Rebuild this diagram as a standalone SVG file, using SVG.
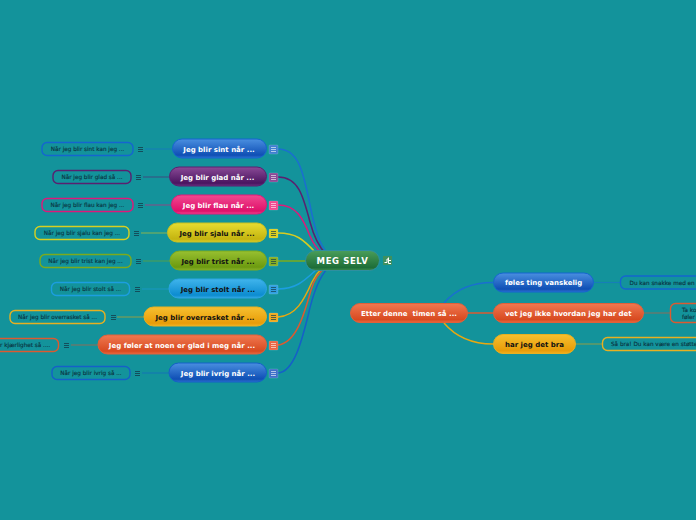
<svg xmlns="http://www.w3.org/2000/svg" width="696" height="520" viewBox="0 0 696 520">
<style>
text{font-family:"DejaVu Sans",Verdana,sans-serif;font-weight:700}
.n{font-size:7px;text-anchor:middle;dominant-baseline:central;white-space:pre}
.w{fill:#fff}.k{fill:#111}
.m{font-size:8.5px;fill:#fff;text-anchor:middle;dominant-baseline:central;letter-spacing:.6px}
.l{font-size:5.7px;fill:#0a3442;font-weight:400;stroke:#0a3442;stroke-width:.15px}
.leaf{fill:none;stroke-width:1.4}
.c{fill:none;stroke-width:1.5}
.s{fill:none;stroke-width:1.1;opacity:.55}
.b{stroke:#143c4a;stroke-width:.8;fill:none}
.bi{stroke:#143c4a;stroke-width:.7;fill:none}
.bw{stroke:#fff;stroke-width:.7;fill:none;opacity:.85}
.ib{stroke:#fff;stroke-opacity:.25;stroke-width:.6}
</style>
<defs>
<linearGradient id="blue" x1="0" y1="0" x2="0" y2="1"><stop offset="0" stop-color="#4a8fe0"/><stop offset=".85" stop-color="#0f4fb5"/><stop offset="1" stop-color="#2f70cc"/></linearGradient>
<linearGradient id="purple" x1="0" y1="0" x2="0" y2="1"><stop offset="0" stop-color="#8a4a96"/><stop offset=".85" stop-color="#4a1560"/><stop offset="1" stop-color="#6a3080"/></linearGradient>
<linearGradient id="pink" x1="0" y1="0" x2="0" y2="1"><stop offset="0" stop-color="#f04a90"/><stop offset=".85" stop-color="#e0106a"/><stop offset="1" stop-color="#f04a90"/></linearGradient>
<linearGradient id="yellow" x1="0" y1="0" x2="0" y2="1"><stop offset="0" stop-color="#e8dc30"/><stop offset=".85" stop-color="#c4b410"/><stop offset="1" stop-color="#d8cc28"/></linearGradient>
<linearGradient id="lime" x1="0" y1="0" x2="0" y2="1"><stop offset="0" stop-color="#98c030"/><stop offset=".85" stop-color="#6c9a10"/><stop offset="1" stop-color="#88b028"/></linearGradient>
<linearGradient id="sky" x1="0" y1="0" x2="0" y2="1"><stop offset="0" stop-color="#40b4ec"/><stop offset=".85" stop-color="#0c8cd0"/><stop offset="1" stop-color="#30a4e0"/></linearGradient>
<linearGradient id="orange" x1="0" y1="0" x2="0" y2="1"><stop offset="0" stop-color="#f6c030"/><stop offset=".85" stop-color="#e89c08"/><stop offset="1" stop-color="#f0b020"/></linearGradient>
<linearGradient id="red" x1="0" y1="0" x2="0" y2="1"><stop offset="0" stop-color="#f07850"/><stop offset=".85" stop-color="#d84a20"/><stop offset="1" stop-color="#e86840"/></linearGradient>
<linearGradient id="green" x1="0" y1="0" x2="0" y2="1"><stop offset="0" stop-color="#4a9e5a"/><stop offset=".85" stop-color="#1e6e38"/><stop offset="1" stop-color="#3a8a4c"/></linearGradient>
<g id="mk"><path d="M-2.500 -2H2.500M-2.500 0H2.500M-2.500 2H2.500"/></g>
</defs>
<rect width="696" height="520" fill="#13939b"/>
<g id="connectors">
<path class="c" stroke="#1a6fd0" d="M278 149C298 149 303 170 310 205C315 230 319 244 328 254"/>
<path class="c" stroke="#5a2070" d="M278 177C298 177 303 195 310 222C314 237 318 246 326 254"/>
<path class="c" stroke="#e0187a" d="M278 205C296 205 303 218 310 236C313 243 317 249 322 254"/>
<path class="c" stroke="#d8cc20" d="M278 233C296 233 303 239 316 253"/>
<path class="c" stroke="#7cab1c" d="M278 261H306"/>
<path class="c" stroke="#1c9ee0" d="M278 289C296 289 304 281 316 270"/>
<path class="c" stroke="#e8a810" d="M278 317C296 316 304 300 312 282C315 276 318 272 322 268"/>
<path class="c" stroke="#dc5a30" d="M278 345C296 343 304 315 311 290C314 280 318 273 325 268"/>
<path class="c" stroke="#1560c8" d="M278 373C294 372 302 340 308 316C312 298 318 278 328 268"/>
<path class="c" stroke="#1a6fd0" d="M444 303C455 290 470 282.500 493 282.500"/>
<path class="c" stroke="#dc5a30" d="M467 313H493"/>
<path class="c" stroke="#e8a810" d="M444 323C455 336 470 344 493 344"/>
<path class="s" stroke="#1a6fd0" d="M145 149H172"/>
<path class="s" stroke="#5a2070" d="M143 177H169"/>
<path class="s" stroke="#e0187a" d="M145 205H171"/>
<path class="s" stroke="#d8cc20" d="M141 233H167"/>
<path class="s" stroke="#7cab1c" d="M143 261H170"/>
<path class="s" stroke="#1c9ee0" d="M142 289H169"/>
<path class="s" stroke="#e8a810" d="M117 317H144"/>
<path class="s" stroke="#dc5a30" d="M71 345H98"/>
<path class="s" stroke="#1560c8" d="M142 373H169"/>
<path class="s" stroke="#1a6fd0" d="M593 282.500H620"/>
<path class="s" stroke="#dc5a30" d="M643 313H670"/>
<path class="s" stroke="#e8a810" d="M575 344H602"/>
</g>
<g id="center"><rect x="305.500" y="250.500" width="74" height="20" rx="10" fill="url(#green)" stroke="#2f8fa0"/><text class="m" x="342.500" y="261">MEG SELV</text>
<rect x="383" y="256" width="9" height="9" fill="#3d9060"/><path d="M384.500 262.500H387V259H389M388.500 257.500V263.500H391M389 260.500H391" stroke="#fff" stroke-width="1" fill="none"/></g>
<g id="n1"><rect x="172.500" y="139" width="94" height="19" rx="9.500" fill="url(#blue)" stroke="#1565d0"/><text class="n w" x="219" y="149.500">Jeg blir sint når ...</text><rect class="ib" x="269" y="145" width="9" height="9" rx="1" fill="#3f80d0"/><use href="#mk" x="273.500" y="149.500" class="bw"/></g>
<g id="n2"><rect x="169.500" y="167" width="97" height="19" rx="9.500" fill="url(#purple)" stroke="#5a2070"/><text class="n w" x="217.500" y="177.500">Jeg blir glad når ...</text><rect class="ib" x="269" y="173" width="9" height="9" rx="1" fill="#8a4a96"/><use href="#mk" x="273.500" y="177.500" class="bw"/></g>
<g id="n3"><rect x="171.500" y="195" width="95" height="19" rx="9.500" fill="url(#pink)" stroke="#e0187a"/><text class="n w" x="218.500" y="205.500">Jeg blir flau når ...</text><rect class="ib" x="269" y="201" width="9" height="9" rx="1" fill="#ee4a90"/><use href="#mk" x="273.500" y="205.500" class="bw"/></g>
<g id="n4"><rect x="167.500" y="223" width="99" height="19" rx="9.500" fill="url(#yellow)" stroke="#c8c020"/><text class="n k" x="217" y="233.500">Jeg blir sjalu når ...</text><rect class="ib" x="269" y="229" width="9" height="9" rx="1" fill="#dccf20"/><use href="#mk" x="273.500" y="233.500" class="bi"/></g>
<g id="n5"><rect x="170" y="251" width="96.500" height="19" rx="9.500" fill="url(#lime)" stroke="#7cab1c"/><text class="n k" x="218" y="261.500">Jeg blir trist når ...</text><rect class="ib" x="269" y="257" width="9" height="9" rx="1" fill="#86ae24"/><use href="#mk" x="273.500" y="261.500" class="bi"/></g>
<g id="n6"><rect x="169" y="279" width="97.500" height="19" rx="9.500" fill="url(#sky)" stroke="#2aa4e4"/><text class="n k" x="218" y="289.500">Jeg blir stolt når ...</text><rect class="ib" x="269" y="285" width="9" height="9" rx="1" fill="#30a0e0"/><use href="#mk" x="273.500" y="289.500" class="bi"/></g>
<g id="n7"><rect x="144" y="307" width="122.500" height="19" rx="9.500" fill="url(#orange)" stroke="#e8b020"/><text class="n k" x="205" y="317.500">Jeg blir overrasket når ...</text><rect class="ib" x="269" y="313" width="9" height="9" rx="1" fill="#eeaa20"/><use href="#mk" x="273.500" y="317.500" class="bi"/></g>
<g id="n8"><rect x="98" y="335" width="168.500" height="19" rx="9.500" fill="url(#red)" stroke="#e0603a"/><text class="n w" x="182" y="345.500">Jeg føler at noen er glad i meg når ...</text><rect class="ib" x="269" y="341" width="9" height="9" rx="1" fill="#ea6644"/><use href="#mk" x="273.500" y="345.500" class="bw"/></g>
<g id="n9"><rect x="169" y="363" width="97.500" height="19" rx="9.500" fill="url(#blue)" stroke="#1560c8"/><text class="n w" x="218" y="373.500">Jeg blir ivrig når ...</text><rect class="ib" x="269" y="369" width="9" height="9" rx="1" fill="#3f70c8"/><use href="#mk" x="273.500" y="373.500" class="bw"/></g>
<g id="l1"><rect x="42" y="142.500" width="91" height="13" rx="5" class="leaf" stroke="#1565d0"/><text class="n l" x="87.500" y="149">Når jeg blir sint kan jeg ...</text><use href="#mk" x="140.500" y="149.500" class="b"/></g>
<g id="l2"><rect x="53" y="170.500" width="78" height="13" rx="5" class="leaf" stroke="#5a2070"/><text class="n l" x="92" y="177">Når jeg blir glad så ...</text><use href="#mk" x="138.500" y="177.500" class="b"/></g>
<g id="l3"><rect x="42" y="198.500" width="91" height="13" rx="5" class="leaf" stroke="#e0187a"/><text class="n l" x="87.500" y="205">Når jeg blir flau kan jeg ...</text><use href="#mk" x="140.500" y="205.500" class="b"/></g>
<g id="l4"><rect x="35" y="226.500" width="94" height="13" rx="5" class="leaf" stroke="#d8d020"/><text class="n l" x="82" y="233">Når jeg blir sjalu kan jeg ...</text><use href="#mk" x="136.500" y="233.500" class="b"/></g>
<g id="l5"><rect x="40" y="254.500" width="91" height="13" rx="5" class="leaf" stroke="#7cab1c"/><text class="n l" x="85.500" y="261">Når jeg blir trist kan jeg ...</text><use href="#mk" x="138.500" y="261.500" class="b"/></g>
<g id="l6"><rect x="51.500" y="282.500" width="78" height="13" rx="5" class="leaf" stroke="#1c9ee0"/><text class="n l" x="90.500" y="289">Når jeg blir stolt så ...</text><use href="#mk" x="137.500" y="289.500" class="b"/></g>
<g id="l7"><rect x="10" y="310.500" width="95" height="13" rx="5" class="leaf" stroke="#e8b020"/><text class="n l" x="57.500" y="317">Når jeg blir overrasket så ...</text><use href="#mk" x="113.500" y="317.500" class="b"/></g>
<g id="l8"><rect x="-40" y="338.500" width="98.500" height="13" rx="5" class="leaf" stroke="#dc5a30"/><text class="l" x="0" y="345" dominant-baseline="central">r kjærlighet så ....</text><use href="#mk" x="66.500" y="345.500" class="b"/></g>
<g id="l9"><rect x="52" y="366.500" width="78" height="13" rx="5" class="leaf" stroke="#1560c8"/><text class="n l" x="91" y="373">Når jeg blir ivrig så ...</text><use href="#mk" x="137.500" y="373.500" class="b"/></g>
<g id="e"><rect x="350.500" y="303.500" width="117" height="19" rx="9.500" fill="url(#red)" stroke="#e0603a"/><text class="n w" x="409" y="313.500">Etter denne  timen så ...</text></g>
<g id="r1"><rect x="493.500" y="273" width="100" height="19" rx="9.500" fill="url(#blue)" stroke="#1565d0"/><text class="n w" x="505" y="283" style="text-anchor:start">føles ting vanskelig</text></g>
<g id="r2"><rect x="493.500" y="303.500" width="150" height="19" rx="9.500" fill="url(#red)" stroke="#e0603a"/><text class="n w" x="505" y="313.500" style="text-anchor:start">vet jeg ikke hvordan jeg har det</text></g>
<g id="r3"><rect x="493.500" y="334.500" width="82" height="19" rx="9.500" fill="url(#orange)" stroke="#e8b020"/><text class="n k" x="505" y="344.500" style="text-anchor:start">har jeg det bra</text></g>
<g id="d1"><rect x="620.500" y="276" width="100" height="13" rx="5" class="leaf" stroke="#1565d0"/><text class="l" x="629.500" y="283" dominant-baseline="central">Du kan snakke med en v</text></g>
<g id="d2"><rect x="670.500" y="303.500" width="50" height="19" rx="5" class="leaf" stroke="#dc5a30"/><text class="l" x="682" y="310" dominant-baseline="central">Ta ko</text><text class="l" x="682" y="316.500" dominant-baseline="central">føler</text></g>
<g id="d3"><rect x="602.500" y="337.500" width="120" height="13" rx="5" class="leaf" stroke="#e8b020"/><text class="l" x="611" y="344" dominant-baseline="central">Så bra! Du kan være en støtte</text></g>
</svg>
